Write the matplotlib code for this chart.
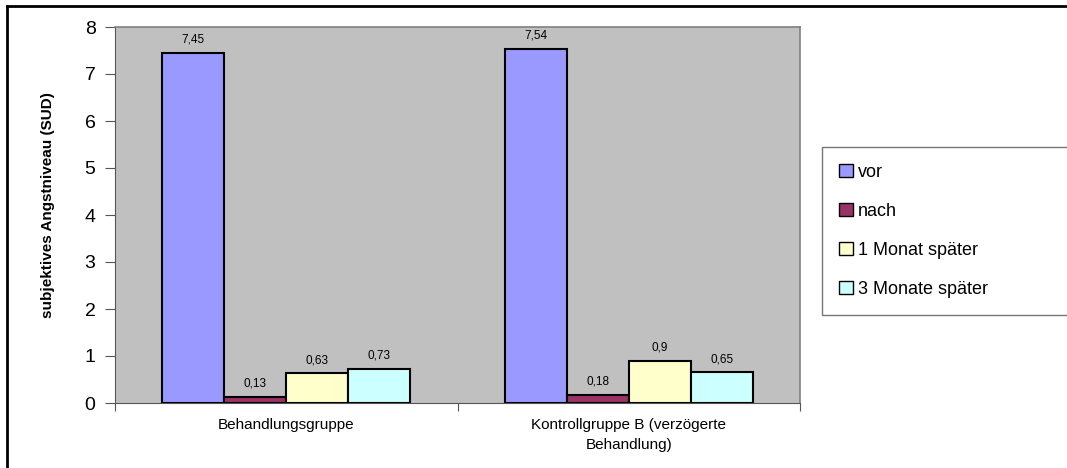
import numpy as np
import matplotlib
matplotlib.use('Agg')
import matplotlib.pyplot as plt
from matplotlib.lines import Line2D

# Daten
gruppen = ['Behandlungsgruppe', 'Kontrollgruppe B (verzögerte\nBehandlung)']
serien = ['vor', 'nach', '1 Monat später', '3 Monate später']
vor = [7.45, 7.54]
nach = [0.13, 0.18]
monat1 = [0.63, 0.9]
monat3 = [0.73, 0.65]
farben = ['#9999FF', '#993366', '#FFFFCC', '#CCFFFF']

plt.rcParams['font.family'] = ['Liberation Sans', 'DejaVu Sans']

fig = plt.figure(figsize=(10.67, 4.68), dpi=100)
ax = fig.add_axes([115 / 1067, 65 / 468, 685 / 1067, 376 / 468])
ax.set_facecolor('#C0C0C0')

x = np.arange(len(gruppen))
breite = 0.181
werte = [vor, nach, monat1, monat3]
for i, (name, w, c) in enumerate(zip(serien, werte, farben)):
    pos = x + (i - 1.5) * breite
    bars = ax.bar(pos, w, breite, color=c, edgecolor='black', linewidth=1.5, label=name)
    for b, v in zip(bars, w):
        ax.text(b.get_x() + b.get_width() / 2, v + 0.15, f'{v:g}'.replace('.', ','),
                ha='center', va='bottom', fontsize=8.5)

ax.set_xlim(-0.5, 1.5)
ax.set_ylim(0, 8)
ax.set_yticks(range(9))
ax.tick_params(axis='y', labelsize=14, length=7, pad=7, color='#555555', direction='out')

# Kategorienbeschriftung zwischen den Trennstrichen
ax.set_xticks([-0.5, 0.5, 1.5])
ax.set_xticklabels([])
ax.tick_params(axis='x', length=6, color='#555555', direction='out')
ax.set_xticks(x, minor=True)
ax.set_xticklabels(gruppen, minor=True, fontsize=11, linespacing=1.5)
ax.tick_params(axis='x', which='minor', length=0, pad=11)

ax.set_ylabel('subjektives Angstniveau (SUD)', fontsize=11, fontweight='bold')
ax.yaxis.set_label_coords(-0.088, 0.527)

for s in ['top', 'right']:
    ax.spines[s].set_color('#808080')
    ax.spines[s].set_linewidth(1.2)
ax.spines['left'].set_color('#555555')
ax.spines['bottom'].set_color('#555555')

# Legende (rechts angeschnitten wie im Original)
leg = fig.legend(loc='upper left',
                 bbox_to_anchor=(822 / 1067, 153 / 468, 260 / 1067, 168 / 468),
                 mode='expand', fontsize=13, frameon=True, fancybox=False,
                 edgecolor='#555555', handlelength=0.75, handleheight=0.75,
                 handletextpad=0.3, labelspacing=1.21, borderpad=0.95, borderaxespad=0)
leg.get_frame().set_linewidth(1.0)
for h in leg.legend_handles:
    h.set_linewidth(1.0)

# Rahmen um die Grafik (links und oben)
fig.add_artist(Line2D([7 / 1067, 7 / 1067], [0, 1 - 6 / 468], transform=fig.transFigure,
                      color='black', linewidth=2))
fig.add_artist(Line2D([7 / 1067, 1], [1 - 6 / 468, 1 - 6 / 468], transform=fig.transFigure,
                      color='black', linewidth=2))

fig.savefig('out.png', dpi=100)
